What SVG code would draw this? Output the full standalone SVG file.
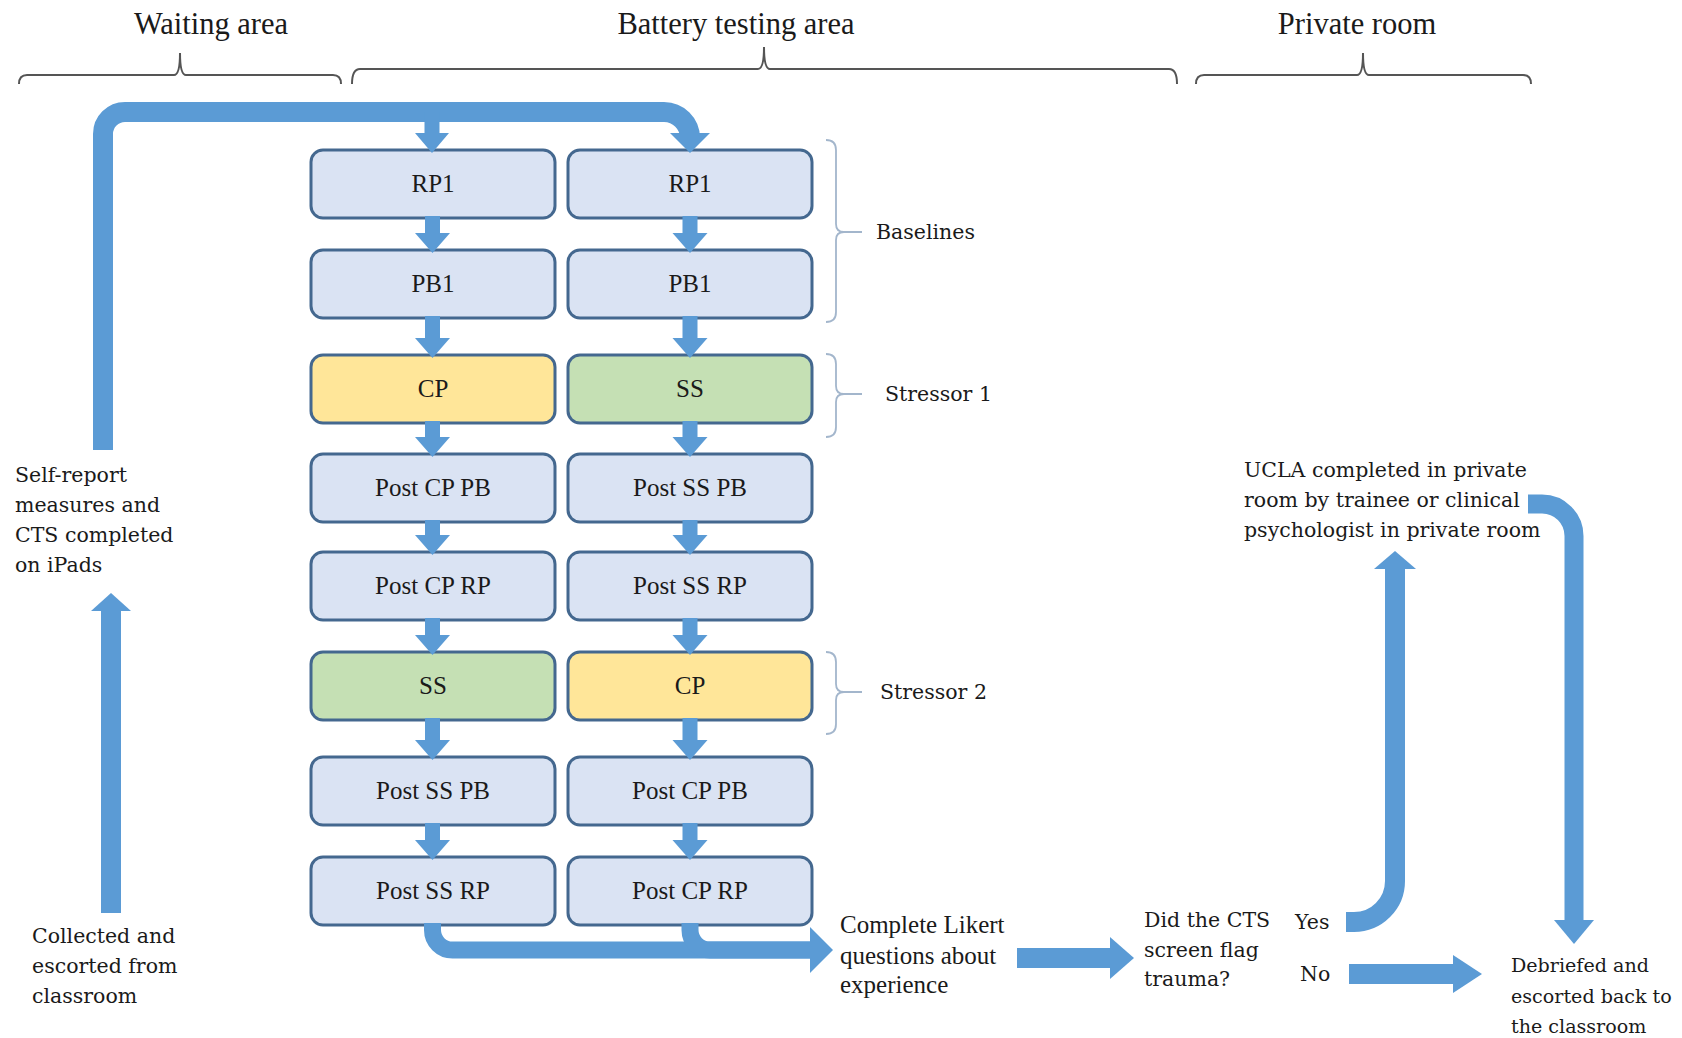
<svg xmlns="http://www.w3.org/2000/svg" width="1682" height="1038" viewBox="0 0 1682 1038">
<style>
.bg{fill:#ffffff}
.box{stroke:#44688f;stroke-width:3}
.base{fill:#dae3f3}
.cp{fill:#ffe699}
.ss{fill:#c5e0b4}
.bt{font-family:"Liberation Serif",serif;font-size:25px;fill:#1a1a1a;text-anchor:middle}
.hd{font-family:"Liberation Serif",serif;font-size:30.5px;fill:#1a1a1a;text-anchor:middle}
.lk{font-family:"Liberation Serif",serif;font-size:25px;fill:#1a1a1a}
.lb{font-family:"DejaVu Serif",serif;font-size:20.5px;fill:#1a1a1a}
.db{font-family:"DejaVu Serif",serif;font-size:19.1px;fill:#1a1a1a}
.brace{fill:none;stroke:#555555;stroke-width:2}
.sbrace{fill:none;stroke:#a3b6cc;stroke-width:1.8}
.shaft{fill:none;stroke:#5b9bd5}
.head{fill:#5b9bd5}
</style>
<rect class="bg" x="0" y="0" width="1682" height="1038"/>

<g id="headers">
<text class="hd" x="211" y="34">Waiting area</text>
<text class="hd" x="736" y="34">Battery testing area</text>
<text class="hd" x="1357" y="34">Private room</text>
<path class="brace" d="M19 84 Q19 75 27 75 H174 Q180 75 180 53 Q180 75 186 75 H333 Q341 75 341 84"/>
<path class="brace" d="M352 84 Q352 69 360 69 H758 Q764 69 764 47 Q764 69 770 69 H1169 Q1177 69 1177 84"/>
<path class="brace" d="M1196 84 Q1196 75 1204 75 H1357 Q1363 75 1363 53 Q1363 75 1369 75 H1523 Q1531 75 1531 84"/>
</g>

<g id="nodes-left">
<g id="L1"><rect class="box base" x="311" y="150" width="244" height="68" rx="12"/><text class="bt" x="433" y="192">RP1</text></g>
<g id="L2"><rect class="box base" x="311" y="250" width="244" height="68" rx="12"/><text class="bt" x="433" y="292">PB1</text></g>
<g id="L3"><rect class="box cp" x="311" y="355" width="244" height="68" rx="12"/><text class="bt" x="433" y="397">CP</text></g>
<g id="L4"><rect class="box base" x="311" y="454" width="244" height="68" rx="12"/><text class="bt" x="433" y="496">Post CP PB</text></g>
<g id="L5"><rect class="box base" x="311" y="552" width="244" height="68" rx="12"/><text class="bt" x="433" y="594">Post CP RP</text></g>
<g id="L6"><rect class="box ss" x="311" y="652" width="244" height="68" rx="12"/><text class="bt" x="433" y="694">SS</text></g>
<g id="L7"><rect class="box base" x="311" y="757" width="244" height="68" rx="12"/><text class="bt" x="433" y="799">Post SS PB</text></g>
<g id="L8"><rect class="box base" x="311" y="857" width="244" height="68" rx="12"/><text class="bt" x="433" y="899">Post SS RP</text></g>
</g>

<g id="nodes-right">
<g id="R1"><rect class="box base" x="568" y="150" width="244" height="68" rx="12"/><text class="bt" x="690" y="192">RP1</text></g>
<g id="R2"><rect class="box base" x="568" y="250" width="244" height="68" rx="12"/><text class="bt" x="690" y="292">PB1</text></g>
<g id="R3"><rect class="box ss" x="568" y="355" width="244" height="68" rx="12"/><text class="bt" x="690" y="397">SS</text></g>
<g id="R4"><rect class="box base" x="568" y="454" width="244" height="68" rx="12"/><text class="bt" x="690" y="496">Post SS PB</text></g>
<g id="R5"><rect class="box base" x="568" y="552" width="244" height="68" rx="12"/><text class="bt" x="690" y="594">Post SS RP</text></g>
<g id="R6"><rect class="box cp" x="568" y="652" width="244" height="68" rx="12"/><text class="bt" x="690" y="694">CP</text></g>
<g id="R7"><rect class="box base" x="568" y="757" width="244" height="68" rx="12"/><text class="bt" x="690" y="799">Post CP PB</text></g>
<g id="R8"><rect class="box base" x="568" y="857" width="244" height="68" rx="12"/><text class="bt" x="690" y="899">Post CP RP</text></g>
</g>

<g id="phase-labels">
<path class="sbrace" d="M826 140 Q836 140 836 150 V224 Q836 232 844 232 H862 M844 232 Q836 232 836 240 V312 Q836 322 826 322"/>
<text class="lb" x="876" y="239">Baselines</text>
<path class="sbrace" d="M826 354 Q836 354 836 364 V386 Q836 394 844 394 H862 M844 394 Q836 394 836 402 V427 Q836 437 826 437"/>
<text class="lb" x="885" y="401">Stressor 1</text>
<path class="sbrace" d="M826 652 Q836 652 836 662 V684 Q836 692 844 692 H862 M844 692 Q836 692 836 700 V724 Q836 734 826 734"/>
<text class="lb" x="880" y="699">Stressor 2</text>
</g>

<g id="text-nodes">
<g id="selfreport"><text class="lb" x="15" y="482">Self-report</text><text class="lb" x="15" y="512">measures and</text><text class="lb" x="15" y="542">CTS completed</text><text class="lb" x="15" y="572">on iPads</text></g>
<g id="collected"><text class="lb" x="32" y="943">Collected and</text><text class="lb" x="32" y="973">escorted from</text><text class="lb" x="32" y="1003">classroom</text></g>
<g id="likert"><text class="lk" x="840" y="933">Complete Likert</text><text class="lk" x="840" y="964">questions about</text><text class="lk" x="840" y="993">experience</text></g>
<g id="decision"><text class="lb" x="1144" y="927">Did the CTS</text><text class="lb" x="1144" y="957">screen flag</text><text class="lb" x="1144" y="986">trauma?</text></g>
<g id="yes"><text class="lb" x="1295" y="929">Yes</text></g>
<g id="no"><text class="lb" x="1300" y="981">No</text></g>
<g id="ucla"><text class="lb" x="1244" y="477">UCLA completed in private</text><text class="lb" x="1244" y="507">room by trainee or clinical</text><text class="lb" x="1244" y="537">psychologist in private room</text></g>
<g id="debriefed"><text class="db" x="1511" y="972">Debriefed and</text><text class="db" x="1511" y="1003">escorted back to</text><text class="db" x="1511" y="1033">the classroom</text></g>
</g>

<g id="connectors">
<path class="shaft" stroke-width="20" d="M103 450 V134 A22 22 0 0 1 125 112 H664 A26 26 0 0 1 690 138 V137"/>
<polygon class="head" points="670,133 710,133 690,153"/>
<rect class="head" x="424.5" y="112" width="15" height="24"/>
<polygon class="head" points="415,133 449,133 432,153"/>
<g id="arrows-left">
<rect class="head" x="425" y="216" width="15" height="20"/><polygon class="head" points="415,233 450,233 432.5,253"/>
<rect class="head" x="425" y="316" width="15" height="25"/><polygon class="head" points="415,338 450,338 432.5,358"/>
<rect class="head" x="425" y="421" width="15" height="19"/><polygon class="head" points="415,437 450,437 432.5,457"/>
<rect class="head" x="425" y="520" width="15" height="18"/><polygon class="head" points="415,535 450,535 432.5,555"/>
<rect class="head" x="425" y="618" width="15" height="20"/><polygon class="head" points="415,635 450,635 432.5,655"/>
<rect class="head" x="425" y="718" width="15" height="25"/><polygon class="head" points="415,740 450,740 432.5,760"/>
<rect class="head" x="425" y="823" width="15" height="20"/><polygon class="head" points="415,840 450,840 432.5,860"/>
</g>
<g id="arrows-right">
<rect class="head" x="682.5" y="216" width="15" height="20"/><polygon class="head" points="672.5,233 707.5,233 690,253"/>
<rect class="head" x="682.5" y="316" width="15" height="25"/><polygon class="head" points="672.5,338 707.5,338 690,358"/>
<rect class="head" x="682.5" y="421" width="15" height="19"/><polygon class="head" points="672.5,437 707.5,437 690,457"/>
<rect class="head" x="682.5" y="520" width="15" height="18"/><polygon class="head" points="672.5,535 707.5,535 690,555"/>
<rect class="head" x="682.5" y="618" width="15" height="20"/><polygon class="head" points="672.5,635 707.5,635 690,655"/>
<rect class="head" x="682.5" y="718" width="15" height="25"/><polygon class="head" points="672.5,740 707.5,740 690,760"/>
<rect class="head" x="682.5" y="823" width="15" height="20"/><polygon class="head" points="672.5,840 707.5,840 690,860"/>
</g>
<path class="shaft" stroke-width="17" d="M432.5 923 V930 A20 20 0 0 0 452.5 950 H812"/>
<path class="shaft" stroke-width="17" d="M690 923 V930 A20 20 0 0 0 710 950 H812"/>
<polygon class="head" points="810,927 833,950 810,973"/>
<rect class="head" x="1017" y="948" width="95" height="20"/>
<polygon class="head" points="1110,937 1134,958 1110,979"/>
<path class="shaft" stroke-width="20" d="M1346 922 H1354 A41 41 0 0 0 1395 881 V566"/>
<polygon class="head" points="1374,569 1416,569 1395,551"/>
<rect class="head" x="1349" y="964" width="106" height="20"/>
<polygon class="head" points="1453,955 1482,974 1453,993"/>
<path class="shaft" stroke-width="19" d="M1528 504 H1542 A32 32 0 0 1 1574 536 V922"/>
<polygon class="head" points="1554,920 1594,920 1574,944"/>
<rect class="head" x="101" y="609" width="20" height="304"/>
<polygon class="head" points="91,611 131,611 111,593"/>
</g>
</svg>
